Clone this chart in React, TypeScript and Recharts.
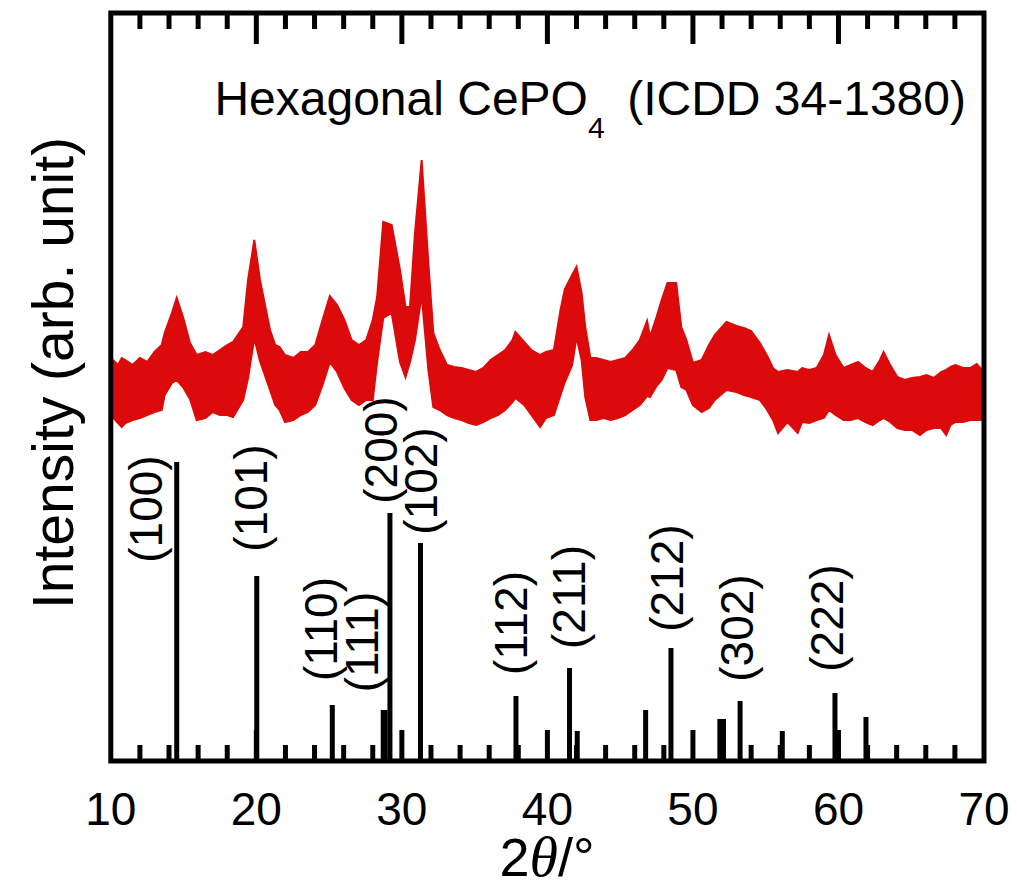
import { ComposedChart, Area, XAxis, YAxis, ReferenceLine, ReferenceArea, Scatter } from 'recharts';

// measured XRD pattern: upper / lower envelope of the noisy trace (arb. counts)
const bandDeg = [
  10.0, 10.5, 10.75, 11.0, 11.5, 12.0, 12.5, 13.0, 13.5, 13.7,
  14.2, 14.53, 14.96, 15.44, 15.9, 16.5, 17.0, 17.5, 18.0, 18.4,
  19.1, 19.43, 19.86, 20.25, 20.94, 21.3, 21.6, 21.97, 22.55, 23.05,
  23.55, 24.05, 24.55, 25.05, 25.55, 26.05, 26.55, 27.05, 27.55, 28.0,
  28.3, 28.72, 29.3, 29.87, 30.25, 30.56, 30.9, 31.36, 31.82, 32.16,
  32.6, 33.1, 33.6, 34.1, 34.6, 35.1, 35.6, 36.1, 36.6, 37.1,
  37.6, 37.8, 38.4, 38.9, 39.5, 39.9, 40.45, 40.9, 41.2, 41.7,
  42.0, 42.35, 42.6, 42.95, 43.35, 43.85, 44.35, 44.85, 45.35, 45.85,
  46.35, 46.85, 47.05, 47.5, 47.85, 48.25, 48.85, 49.2, 49.55, 50.0,
  50.6, 51.1, 51.5, 52.3, 53.0, 53.5, 54.0, 54.6, 55.1, 55.5,
  55.85, 56.5, 57.2, 57.5, 58.0, 58.5, 59.0, 59.35, 59.8, 60.35,
  60.85, 61.35, 61.85, 62.35, 62.85, 63.1, 63.55, 64.05, 64.55, 65.05,
  65.6, 66.05, 66.55, 67.05, 67.4, 67.7, 68.05, 68.55, 69.05, 69.5,
  70.0,
];
const bandHigh = [
  403, 396, 403, 401, 396, 403, 399, 409, 416, 428,
  448, 463, 444, 418, 406, 409, 406, 411, 416, 419,
  434, 481, 521, 481, 431, 416, 414, 406, 403, 409,
  409, 416, 441, 465, 456, 441, 421, 416, 421, 441,
  464, 539, 536, 491, 454, 454, 528, 601, 498, 428,
  411, 396, 394, 393, 391, 389, 393, 401, 406, 411,
  421, 429, 419, 411, 406, 409, 411, 451, 472, 486,
  494, 468, 434, 403, 403, 401, 399, 401, 403, 411,
  421, 440, 424, 444, 461, 478, 478, 434, 421, 398,
  401, 416, 426, 439, 435, 433, 430, 418, 405, 393,
  389, 391, 389, 393, 391, 393, 406, 426, 406, 393,
  396, 399, 393, 389, 401, 409, 396, 384, 381, 383,
  384, 386, 383, 389, 391, 394, 396, 393, 393, 397,
  389,
];
const bandLow = [
  346, 338, 334, 338, 341, 343, 346, 349, 351, 366,
  378, 381, 374, 362, 341, 343, 349, 346, 346, 344,
  361, 383, 423, 400, 371, 356, 351, 339, 341, 346,
  349, 356, 376, 399, 389, 373, 361, 356, 361, 361,
  399, 443, 448, 399, 384, 399, 421, 466, 391, 354,
  351, 346, 343, 341, 338, 336, 339, 343, 346, 351,
  359, 363, 356, 346, 334, 343, 346, 366, 379, 396,
  424, 401, 364, 341, 341, 343, 341, 343, 346, 351,
  356, 365, 364, 375, 381, 393, 391, 374, 371, 356,
  349, 353, 361, 371, 369, 366, 364, 361, 351, 341,
  328, 339, 328, 339, 338, 341, 343, 351, 346, 341,
  341, 343, 339, 336, 341, 343, 339, 333, 331, 331,
  326, 331, 333, 333, 326, 336, 339, 339, 341, 341,
  341,
];

// ICDD 34-1380 reference sticks
const stickDeg = [14.53, 20.03, 25.22, 28.72, 28.85, 29.18, 31.28, 37.84, 41.52, 42.05, 46.75, 48.49, 51.85, 52.1, 53.24, 56.14, 59.76, 61.89];
const stickIntensity = [299, 185, 56, 51, 51, 248, 218, 65, 93, 30, 51, 113, 42, 42, 60, 30, 68, 44];

const hklText = ['(100)', '(101)', '(110)', '(111)', '(200)', '(102)', '(112)', '(211)', '(212)', '(302)', '(222)'];
const hklDeg = [13.52, 20.73, 25.54, 28.36, 29.67, 32.41, 38.59, 42.58, 49.32, 54.13, 60.31];
const hklCount = [252, 263, 132, 119, 311, 280, 138, 164, 183, 133, 143];

const xTicks = [10, 20, 30, 40, 50, 60, 70];
const majorInner = [20, 30, 40, 50, 60];
const minorTicks = [12, 14, 16, 18, 22, 24, 26, 28, 32, 34, 36, 38, 42, 44, 46, 48, 52, 54, 56, 58, 62, 64, 66, 68];

const Y_MAX = 748;
const FONT = '"Liberation Sans", Arial, Helvetica, sans-serif';
const RED = '#dc0a0a';

const chartData = bandDeg.map((d, i) => ({ deg: d, band: [bandLow[i], bandHigh[i]] }));
const labelData = hklText.map((t, i) => ({ deg: hklDeg[i], count: hklCount[i], hkl: t }));

const XTick = (props: any) => (
  <text x={props.x} y={props.y + 64} textAnchor="middle" fontSize={46} fontFamily={FONT} fill="#000">
    {props.payload.value}
  </text>
);

const HklLabel = (props: any) => {
  const { cx, cy, payload } = props;
  return (
    <text
      x={cx}
      y={cy}
      transform={`rotate(-90, ${cx}, ${cy})`}
      textAnchor="middle"
      fontSize={46}
      fontFamily={FONT}
      fill="#000"
    >
      {payload.hkl}
    </text>
  );
};

export default function App() {
  return (
    <div style={{ position: 'absolute', left: 0, top: 0, width: 1017, height: 888, background: '#fff' }}>
      <ComposedChart width={1017} height={888} data={chartData} margin={{ top: 13, right: 33, bottom: 67, left: 110.8 }}>
        <XAxis
          dataKey="deg"
          type="number"
          domain={[10, 70]}
          ticks={xTicks}
          allowDataOverflow
          height={60}
          axisLine={false}
          tickLine={false}
          tickSize={0}
          tickMargin={0}
          tick={<XTick />}
        />
        <YAxis hide type="number" domain={[0, Y_MAX]} allowDataOverflow />
        <Area
          type="linear"
          dataKey="band"
          stroke={RED}
          strokeWidth={2}
          fill={RED}
          fillOpacity={1}
          isAnimationActive={false}
          dot={false}
          activeDot={false}
        />
        {stickDeg.map((d, i) => (
          <ReferenceLine
            key={`s${i}`}
            segment={[{ x: d, y: 0 }, { x: d, y: stickIntensity[i] }]}
            stroke="#000"
            strokeWidth={5}
            ifOverflow="visible"
          />
        ))}
        {minorTicks.map((t) => (
          <ReferenceLine key={`mb${t}`} segment={[{ x: t, y: 0 }, { x: t, y: 16 }]} stroke="#000" strokeWidth={5} ifOverflow="visible" />
        ))}
        {minorTicks.map((t) => (
          <ReferenceLine key={`mt${t}`} segment={[{ x: t, y: Y_MAX }, { x: t, y: Y_MAX - 16 }]} stroke="#000" strokeWidth={5} ifOverflow="visible" />
        ))}
        {majorInner.map((t) => (
          <ReferenceLine key={`Mb${t}`} segment={[{ x: t, y: 0 }, { x: t, y: 31 }]} stroke="#000" strokeWidth={5} ifOverflow="visible" />
        ))}
        {majorInner.map((t) => (
          <ReferenceLine key={`Mt${t}`} segment={[{ x: t, y: Y_MAX }, { x: t, y: Y_MAX - 31 }]} stroke="#000" strokeWidth={5} ifOverflow="visible" />
        ))}
        <ReferenceArea x1={10} x2={70} y1={0} y2={Y_MAX} fill="none" stroke="#000" strokeWidth={5} ifOverflow="visible" />
        <Scatter data={labelData} dataKey="count" shape={<HklLabel />} isAnimationActive={false} />
      </ComposedChart>
      <svg width={1017} height={888} style={{ position: 'absolute', left: 0, top: 0, pointerEvents: 'none' }}>
        <text x={214.4} y={115} fontSize={48} fontFamily={FONT} fill="#000">
          <tspan>Hexagonal CePO</tspan>
          <tspan fontSize={30} dy={23}>4</tspan>
        </text>
        <text x={966} y={115} textAnchor="end" fontSize={48} fontFamily={FONT} fill="#000">
          (ICDD 34-1380)
        </text>
        <text
          x={73}
          y={373}
          transform="rotate(-90, 73, 373)"
          textAnchor="middle"
          fontSize={57}
          fontFamily={FONT}
          fill="#000"
        >
          Intensity (arb. unit)
        </text>
        <text x={547} y={876} textAnchor="middle" fontSize={54} fontFamily={FONT} fill="#000">
          <tspan>2</tspan>
          <tspan fontFamily={'"Liberation Serif", "Times New Roman", serif'} fontStyle="italic" fontSize={58}>θ</tspan>
          <tspan>/°</tspan>
        </text>
      </svg>
    </div>
  );
}
